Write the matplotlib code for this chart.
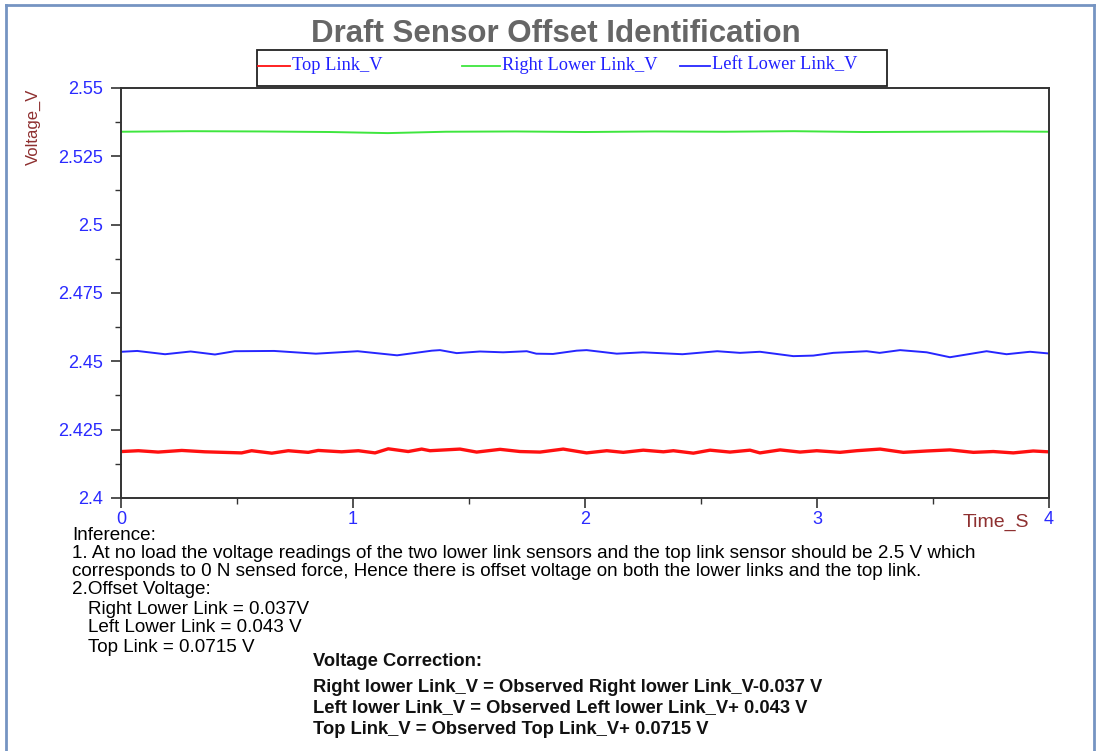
import matplotlib
matplotlib.use("Agg")
import matplotlib.pyplot as plt
from matplotlib.lines import Line2D
from matplotlib.patches import Rectangle

# -------------------------
# DATA
# -------------------------
t_top = [0.003, 0.075, 0.16, 0.262, 0.362, 0.52, 0.563, 0.65, 0.721, 0.807, 0.85, 0.951,
         1.023, 1.095, 1.152, 1.238, 1.296, 1.332, 1.461, 1.533, 1.634, 1.72, 1.806, 1.906,
         2.007, 2.094, 2.165, 2.251, 2.338, 2.381, 2.467, 2.539, 2.625, 2.711, 2.754, 2.841,
         2.927, 2.999, 3.099, 3.171, 3.272, 3.372, 3.473, 3.573, 3.674, 3.76, 3.846, 3.932, 3.996]
v_top = [2.4170, 2.4173, 2.4168, 2.4174, 2.4169, 2.4165, 2.4173, 2.4164, 2.4173, 2.4167, 2.4174, 2.4169,
         2.4173, 2.4165, 2.4180, 2.4170, 2.4179, 2.4173, 2.4179, 2.4168, 2.4178, 2.4170, 2.4168, 2.4179,
         2.4165, 2.4173, 2.4167, 2.4175, 2.4169, 2.4173, 2.4164, 2.4175, 2.4168, 2.4175, 2.4165, 2.4176,
         2.4168, 2.4173, 2.4167, 2.4173, 2.4179, 2.4167, 2.4172, 2.4176, 2.4167, 2.4170, 2.4165, 2.4172, 2.4169]

t_right = [0.0, 0.3, 0.6, 0.9, 1.15, 1.4, 1.7, 2.0, 2.3, 2.6, 2.9, 3.2, 3.5, 3.8, 4.0]
v_right = [2.5340, 2.5342, 2.5341, 2.5339, 2.5335, 2.5340, 2.5341, 2.5339, 2.5341, 2.5340,
           2.5342, 2.5339, 2.5340, 2.5341, 2.5340]

t_left = [0.003, 0.07, 0.19, 0.30, 0.405, 0.49, 0.66, 0.84, 1.02, 1.19, 1.34, 1.375, 1.447,
          1.547, 1.647, 1.749, 1.79, 1.862, 1.964, 2.007, 2.137, 2.25, 2.42, 2.57, 2.668, 2.754,
          2.898, 2.984, 3.07, 3.214, 3.27, 3.358, 3.473, 3.573, 3.731, 3.817, 3.918, 3.996]
v_left = [2.4535, 2.4538, 2.4526, 2.4536, 2.4525, 2.4537, 2.4538, 2.4528, 2.4537, 2.4522, 2.4539, 2.4541, 2.4530,
          2.4536, 2.4533, 2.4537, 2.4528, 2.4527, 2.4539, 2.4541, 2.4528, 2.4533, 2.4526, 2.4537, 2.4531, 2.4535,
          2.4519, 2.4521, 2.4531, 2.4537, 2.4531, 2.4541, 2.4533, 2.4515, 2.4537, 2.4526, 2.4535, 2.4529]

y_ticks = [2.4, 2.425, 2.45, 2.475, 2.5, 2.525, 2.55]
y_labels = ["2.4", "2.425", "2.45", "2.475", "2.5", "2.525", "2.55"]
x_ticks = [0, 1, 2, 3, 4]

names = ["Top Link_V", "Right Lower Link_V", "Left Lower Link_V"]
colors = ["#ff1010", "#3ee63e", "#2626ff"]

notes = [
    "Inference:",
    "1. At no load the voltage readings of the two lower link sensors and the top link sensor should be 2.5 V which",
    "corresponds to 0 N sensed force, Hence there is offset voltage on both the lower links and the top link.",
    "2.Offset Voltage:",
    "Right Lower Link = 0.037V",
    "Left Lower Link = 0.043 V",
    "Top Link = 0.0715 V",
]
corrections = [
    "Right lower Link_V = Observed Right lower Link_V-0.037 V",
    "Left lower Link_V = Observed Left lower Link_V+ 0.043 V",
    "Top Link_V = Observed Top Link_V+ 0.0715 V",
]

# -------------------------
# FIGURE
# -------------------------
W, H = 1099, 751
plt.rcParams['font.family'] = ['Liberation Sans', 'DejaVu Sans']
fig = plt.figure(figsize=(W / 100, H / 100), dpi=100)


def fx(x):
    return x / W


def fy(y):
    return 1 - y / H


ax = fig.add_axes([fx(121), fy(498), fx(1049) - fx(121), fy(88) - fy(498)])

ax.plot(t_top, v_top, color=colors[0], lw=2.4)
ax.plot(t_right, v_right, color=colors[1], lw=1.4)
ax.plot(t_left, v_left, color=colors[2], lw=1.4)

ax.set_xlim(0, 4)
ax.set_ylim(2.4, 2.55)
ax.set_yticks(y_ticks)
ax.set_yticklabels(y_labels)
ax.set_xticks(x_ticks)
ax.set_xticks([0.5, 1.5, 2.5, 3.5], minor=True)
ax.set_yticks([2.4125, 2.4375, 2.4625, 2.4875, 2.5125, 2.5375], minor=True)

ax.tick_params(axis='y', which='major', length=7, width=1.2, colors='#333333',
               labelcolor='#2a2aff', labelsize=13, pad=6)
ax.tick_params(axis='y', which='minor', length=4, width=1.0, colors='#333333')
ax.tick_params(axis='x', which='major', length=7, width=1.2, colors='#333333',
               labelcolor='#2a2aff', labelsize=13, pad=2)
ax.tick_params(axis='x', which='minor', length=4, width=1.0, colors='#333333')
for s in ax.spines.values():
    s.set_color('#333333')
    s.set_linewidth(1.4)

# axis names
label_col = '#8e3030'
fig.text(fx(33), fy(127), "Voltage_V", rotation=90, color=label_col, fontsize=12,
         ha='center', va='center')
fig.text(fx(996), fy(522), "Time_S", color=label_col, fontsize=14,
         ha='center', va='center')

# title
fig.text(fx(556), fy(34), "Draft Sensor Offset Identification", fontsize=22.5,
         fontweight='bold', color='#666666', ha='center', va='center')

# legend box
fig.add_artist(Rectangle((fx(257), fy(86)), fx(887) - fx(257), fy(50) - fy(86),
                         transform=fig.transFigure, fill=False, edgecolor='#222222', lw=1.3))
leg_pos = [(258, 290, 292), (462, 500, 502), (680, 710, 712)]
for (x0, x1, xt), name, c in zip(leg_pos, names, colors):
    fig.add_artist(Line2D([fx(x0), fx(x1)], [fy(66), fy(66)], transform=fig.transFigure,
                          color=c, lw=1.3))
    fig.text(fx(xt), fy(65), name, color='#2020ff', fontsize=13.2,
             family=['Liberation Serif', 'DejaVu Serif'], ha='left', va='center')

# notes under the chart
note_y = [535, 553, 572, 590, 609, 628, 647]
note_x = [72, 72, 72, 72, 88, 88, 88]
for x, y, s in zip(note_x, note_y, notes):
    fig.text(fx(x), fy(y), s, fontsize=13.6, color='black', ha='left', va='center')

fig.text(fx(313), fy(662), "Voltage Correction:", fontsize=13.2, fontweight='bold',
         color='#111111', ha='left', va='center')
for y, s in zip([687, 708, 729], corrections):
    fig.text(fx(313), fy(y), s, fontsize=13.2, fontweight='bold', color='#111111',
             ha='left', va='center')

# outer frame
frame_col = '#7594c2'
for xs, ys in [([6, 6], [5, 751]), ([6, 1094], [5, 5]), ([1094, 1094], [5, 751])]:
    fig.add_artist(Line2D([fx(xs[0]), fx(xs[1])], [fy(ys[0]), fy(ys[1])],
                          transform=fig.transFigure, color=frame_col, lw=2))

fig.savefig("out.png", dpi=100)
